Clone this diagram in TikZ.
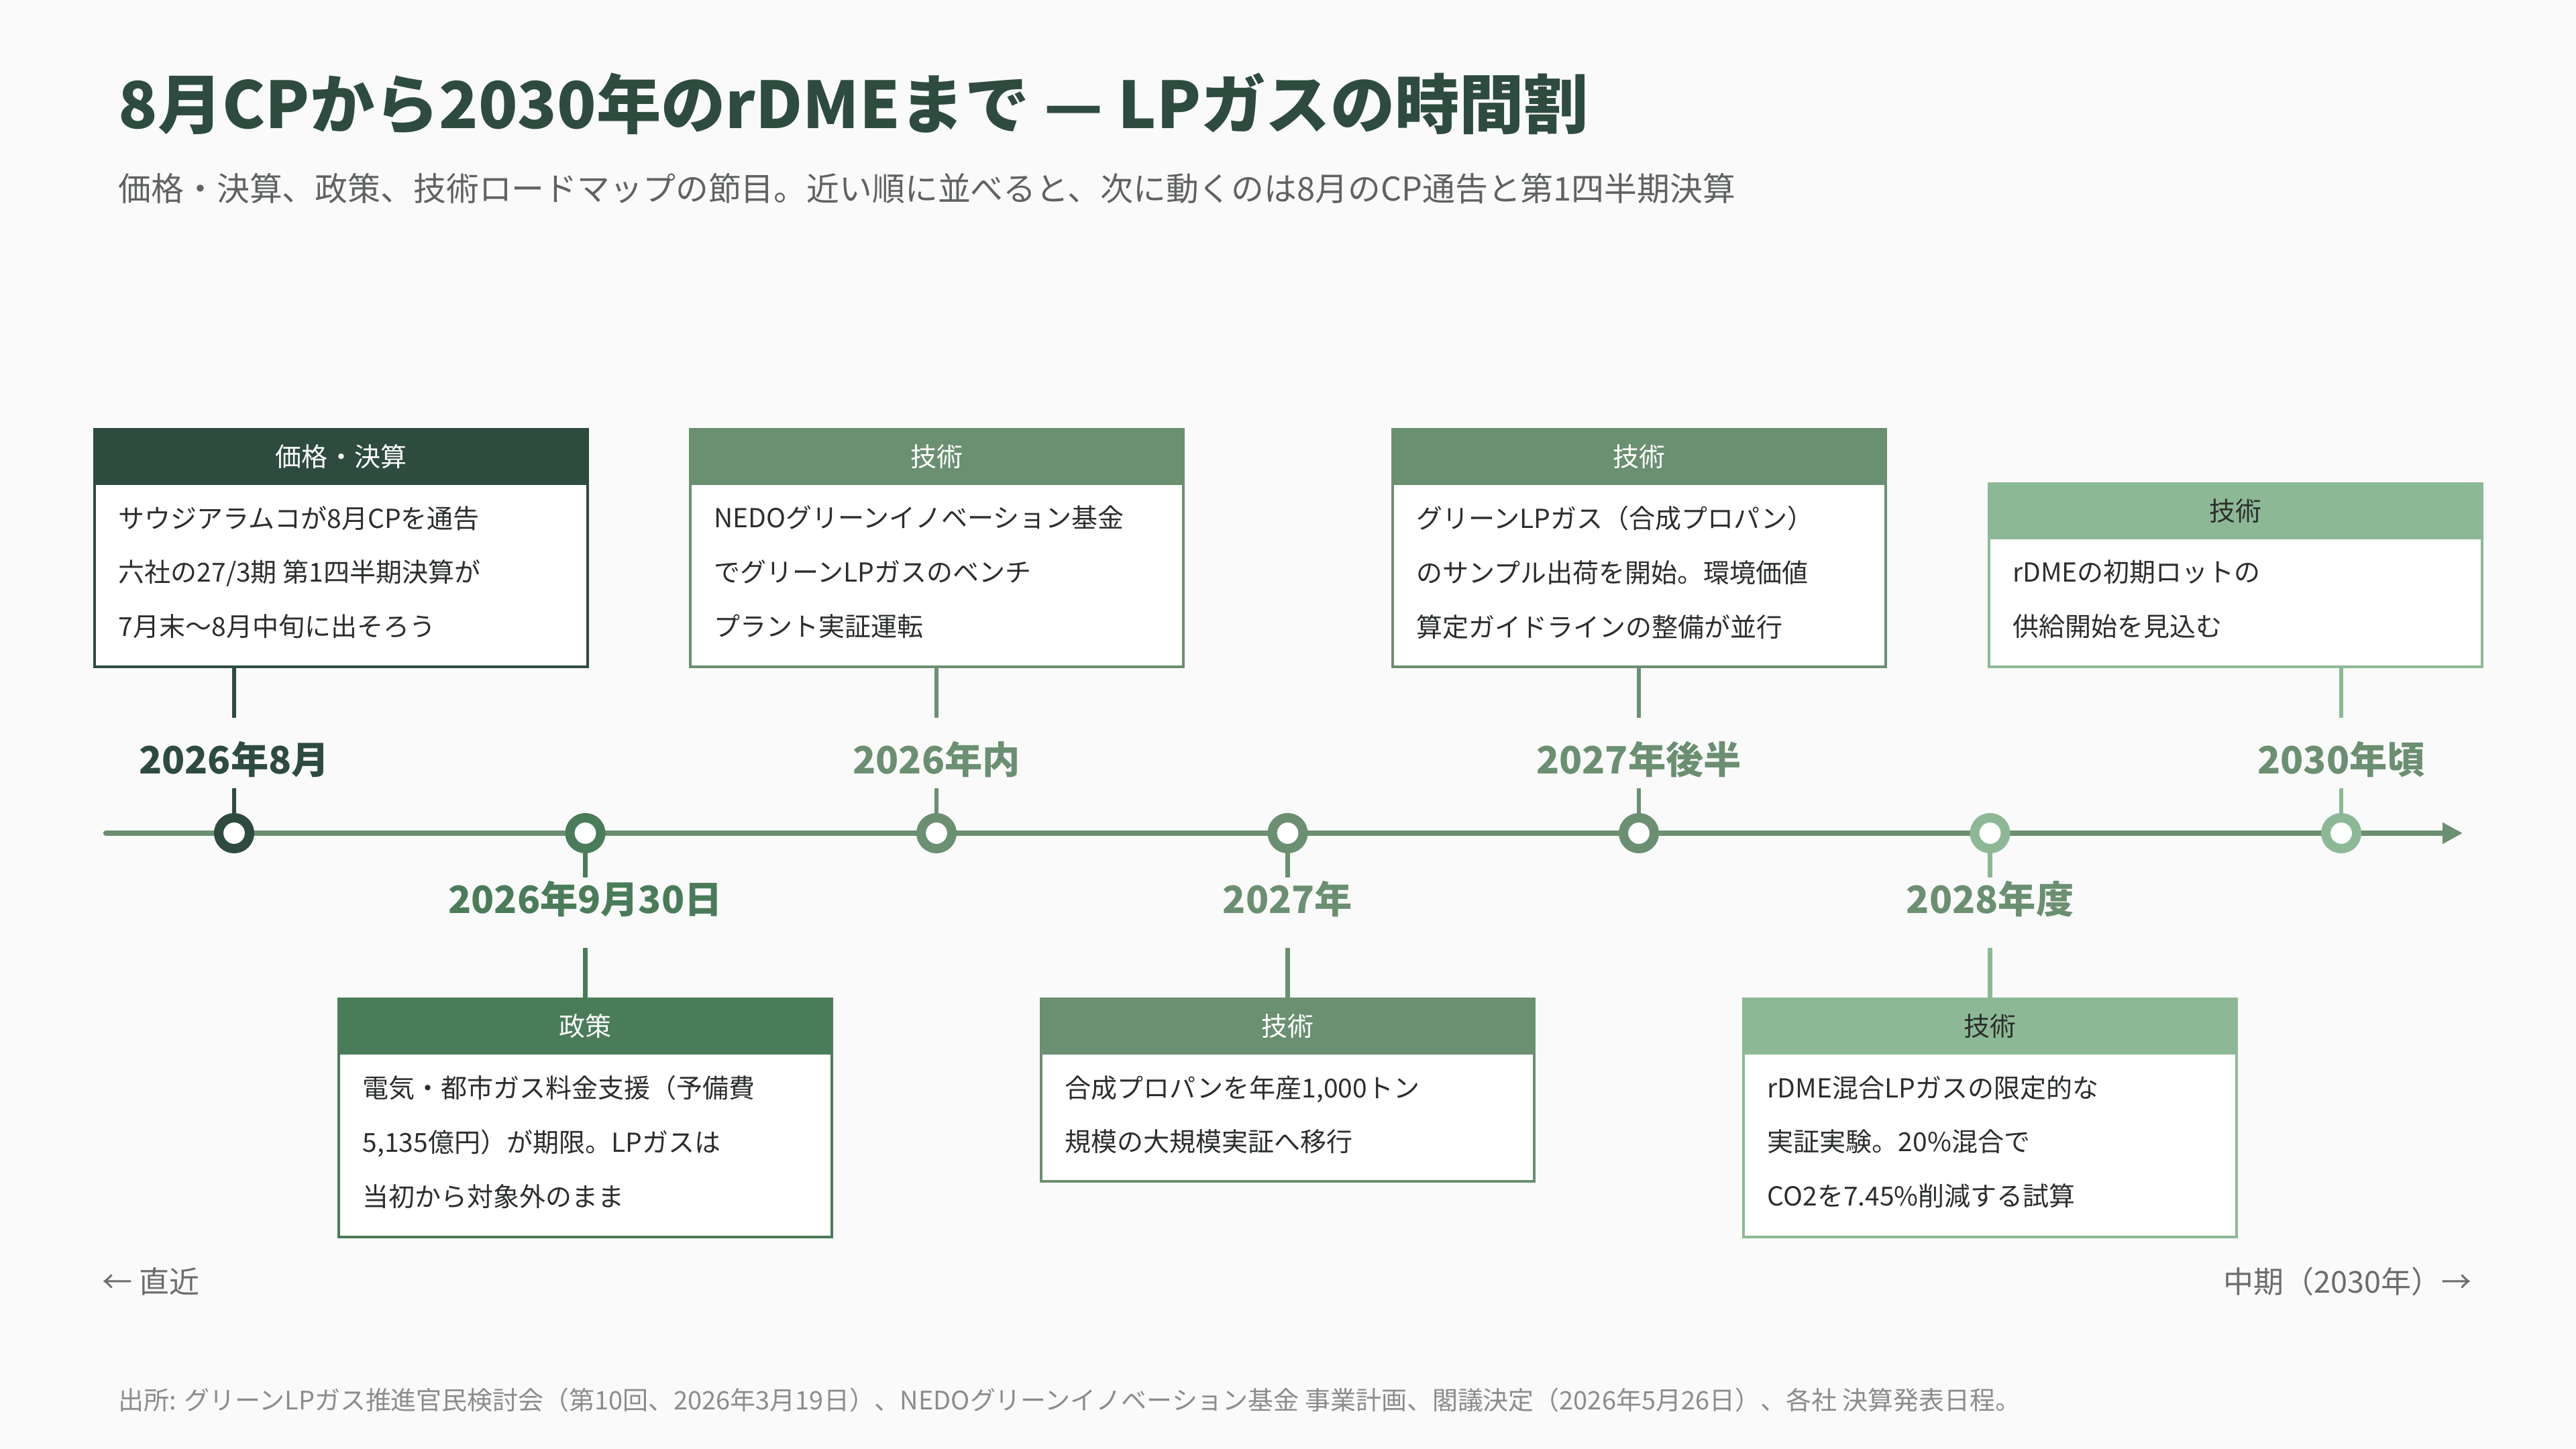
\documentclass[tikz,border=0pt]{standalone}
\usepackage{fontspec}
\setmainfont{Noto Sans CJK JP}
\usetikzlibrary{positioning, calc, arrows.meta}

\definecolor{bgpage}{HTML}{FAFAFA}
\definecolor{ink}{HTML}{2E4B3F}
\definecolor{policy}{HTML}{4A7C59}
\definecolor{sage}{HTML}{6B8F71}
\definecolor{mint}{HTML}{8DB896}
\definecolor{bodytext}{HTML}{2B2F2C}
\definecolor{subgray}{HTML}{5F6360}
\definecolor{capgray}{HTML}{6A6D6B}
\definecolor{notegray}{HTML}{8A8D8B}

\begin{document}
\begin{tikzpicture}[
  txt/.style={anchor=west, inner sep=0pt},
  box/.style={draw=#1, line width=0.4mm, fill=white, minimum width=7.35cm, inner sep=0pt},
  head/.style={fill=#1, minimum width=7.39cm, minimum height=0.84cm, anchor=north, inner sep=0pt,
    text=white, font=\fontsize{11.1}{13}\selectfont},
  body/.style={anchor=north west, align=left, inner xsep=0.37cm, inner ysep=0.3cm, text=bodytext,
    font=\fontsize{11.1}{23}\selectfont},
  dot/.style={circle, draw=#1, fill=white, line width=1.4mm, minimum size=4.6mm, inner sep=0pt},
  conn/.style={draw=#1, line width=0.65mm},
  toplab/.style={anchor=base, text=#1, font=\fontsize{16}{18}\selectfont\bfseries,
    text height=8.3mm, text depth=2mm, inner ysep=0pt},
  botlab/.style={anchor=base, text=#1, font=\fontsize{16}{18}\selectfont\bfseries,
    text height=5.3mm, text depth=5mm, inner ysep=0pt},
  axis/.style={draw=sage, line width=0.85mm, line cap=round, -{Triangle[length=3mm,width=3mm]}}
]
  \fill[bgpage] (0,-9.18) rectangle (38.4,12.42);
  \useasboundingbox (0,-9.18) rectangle (38.4,12.42);

  % heading
  \node[txt, text=ink, font=\fontsize{27.4}{30}\selectfont\bfseries] (title) at (1.76,10.87)
    {8月CPから2030年のrDMEまで — LPガスの時間割};
  \node[txt, text=subgray, font=\fontsize{13.9}{16}\selectfont] (subtitle) at (1.76,9.61)
    {価格・決算、政策、技術ロードマップの節目。近い順に並べると、次に動くのは8月のCP通告と第1四半期決算};

  % axis and tick points
  \coordinate (ax0) at (1.58,0);
  \coordinate (ax1) at (36.71,0);
  \draw[axis] (ax0) -- (ax1);
  \coordinate (t1) at (3.49,0);
  \coordinate (t2) at (8.725,0);
  \coordinate (t3) at (13.96,0);
  \coordinate (t4) at (19.195,0);
  \coordinate (t5) at (24.43,0);
  \coordinate (t6) at (29.665,0);
  \coordinate (t7) at (34.90,0);

  % boxes above the axis
  \node[box=ink, minimum height=3.54cm] (bx1) at (5.085,4.25) {};
  \node[head=ink] (hd1) at (bx1.north) {価格・決算};
  \node[body] (tx1) at (bx1.west |- hd1.south)
    {サウジアラムコが8月CPを通告\\六社の27/3期 第1四半期決算が\\7月末〜8月中旬に出そろう};

  \node[box=sage, minimum height=3.54cm] (bx3) at (13.96,4.25) {};
  \node[head=sage] (hd3) at (bx3.north) {技術};
  \node[body] (tx3) at (bx3.west |- hd3.south)
    {NEDOグリーンイノベーション基金\\でグリーンLPガスのベンチ\\プラント実証運転};

  \node[box=sage, minimum height=3.54cm] (bx5) at (24.43,4.25) {};
  \node[head=sage] (hd5) at (bx5.north) {技術};
  \node[body] (tx5) at (bx5.west |- hd5.south)
    {グリーンLPガス（合成プロパン）\\のサンプル出荷を開始。環境価値\\算定ガイドラインの整備が並行};

  \node[box=mint, minimum height=2.73cm] (bx7) at (33.32,3.845) {};
  \node[head=mint, text=bodytext] (hd7) at (bx7.north) {技術};
  \node[body] (tx7) at (bx7.west |- hd7.south)
    {rDMEの初期ロットの\\供給開始を見込む};

  % boxes below the axis
  \node[box=policy, minimum height=3.55cm] (bx2) at (8.725,-4.245) {};
  \node[head=policy] (hd2) at (bx2.north) {政策};
  \node[body] (tx2) at (bx2.west |- hd2.south)
    {電気・都市ガス料金支援（予備費\\5,135億円）が期限。LPガスは\\当初から対象外のまま};

  \node[box=sage, minimum height=2.72cm] (bx4) at (19.195,-3.83) {};
  \node[head=sage] (hd4) at (bx4.north) {技術};
  \node[body] (tx4) at (bx4.west |- hd4.south)
    {合成プロパンを年産1,000トン\\規模の大規模実証へ移行};

  \node[box=mint, minimum height=3.55cm] (bx6) at (29.665,-4.245) {};
  \node[head=mint, text=bodytext] (hd6) at (bx6.north) {技術};
  \node[body] (tx6) at (bx6.west |- hd6.south)
    {rDME混合LPガスの限定的な\\実証実験。20\%混合で\\CO2を7.45\%削減する試算};

  % date labels
  \node[toplab=ink] (l1) at (3.49,0.88) {2026年8月};
  \node[botlab=policy] (l2) at (8.725,-1.20) {2026年9月30日};
  \node[toplab=sage] (l3) at (13.96,0.88) {2026年内};
  \node[botlab=sage] (l4) at (19.195,-1.20) {2027年};
  \node[toplab=sage] (l5) at (24.43,0.88) {2027年後半};
  \node[botlab=sage] (l6) at (29.665,-1.20) {2028年度};
  \node[toplab=sage] (l7) at (34.90,0.88) {2030年頃};

  % connectors
  \draw[conn=ink] (bx1.south -| t1) -- (l1.north);
  \draw[conn=ink] (l1.south) -- (t1);
  \draw[conn=policy] (t2) -- (l2.north);
  \draw[conn=policy] (l2.south) -- (bx2.north);
  \draw[conn=sage] (bx3.south) -- (l3.north);
  \draw[conn=sage] (l3.south) -- (t3);
  \draw[conn=sage] (t4) -- (l4.north);
  \draw[conn=sage] (l4.south) -- (bx4.north);
  \draw[conn=sage] (bx5.south) -- (l5.north);
  \draw[conn=sage] (l5.south) -- (t5);
  \draw[conn=mint] (t6) -- (l6.north);
  \draw[conn=mint] (l6.south) -- (bx6.north);
  \draw[conn=mint] (bx7.south -| t7) -- (l7.north);
  \draw[conn=mint] (l7.south) -- (t7);

  % milestone dots
  \node[dot=ink] (c1) at (t1) {};
  \node[dot=policy] (c2) at (t2) {};
  \node[dot=sage] (c3) at (t3) {};
  \node[dot=sage] (c4) at (t4) {};
  \node[dot=sage] (c5) at (t5) {};
  \node[dot=mint] (c6) at (t6) {};
  \node[dot=mint] (c7) at (t7) {};

  % ends of the axis
  \node[txt, text=capgray, font=\fontsize{12.8}{15}\selectfont] (near) at (1.52,-6.68) {← 直近};
  \node[txt, anchor=east, text=capgray, font=\fontsize{12.8}{15}\selectfont] (far) at (36.85,-6.68)
    {中期（2030年）→};

  % source
  \node[txt, text=notegray, font=\fontsize{10.8}{12}\selectfont] (source) at (1.76,-8.45)
    {出所: グリーンLPガス推進官民検討会（第10回、2026年3月19日）、NEDOグリーンイノベーション基金 事業計画、閣議決定（2026年5月26日）、各社 決算発表日程。};
\end{tikzpicture}
\end{document}
